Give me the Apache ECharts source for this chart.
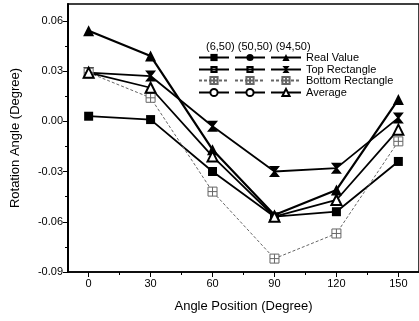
<!DOCTYPE html>
<html>
<head>
<meta charset="utf-8">
<script src="https://cdn.jsdelivr.net/npm/echarts@6/dist/echarts.min.js"></script>
<style>
  html, body { margin: 0; padding: 0; background: #fff; }
  #chart { width: 419px; height: 321px; }
</style>
</head>
<body>
<div id="chart"></div>
<script>
// angle positions (x) and rotation angles (y)
const anglePositions = [0, 30, 60, 90, 120, 150]
const realValue6 = [0.003, 0.001, -0.030, -0.057, -0.054, -0.024]
const realValue94 = [0.054, 0.039, -0.017, -0.056, -0.041, 0.013]
const topRect94 = [0.029, 0.027, -0.003, -0.030, -0.028, 0.002]
const bottomRect94 = [0.029, 0.014, -0.042, -0.082, -0.067, -0.012]
const average94 = [0.029, 0.020, -0.021, -0.057, -0.047, -0.005]

const xTicks = [0, 30, 60, 90, 120, 150]
const xMinorTicks = [15, 45, 75, 105, 135]
const yTicks = [-0.09, -0.06, -0.03, 0, 0.03, 0.06]
const yMinorTicks = [-0.075, -0.045, -0.015, 0.015, 0.045]

const rowNames = ['Real Value', 'Top Rectangle', 'Bottom Rectangle', 'Average']
const colNames = ['(6,50)', '(50,50)', '(94,50)']

const font = 'Liberation Sans, Arial, sans-serif'
const pair = arr => anglePositions.map((x, i) => [x, arr[i]])

const hollowSquare = 'path://M0,0H10V10H0Z M3,3V7H7V3Z'
const dottedBox = 'path://M1,1H9V9H1Z M5,1V9 M1,5H9'
const hourglass = 'path://M0,0H10L6,5L10,10H0L4,5Z'

const solid = { color: '#000', width: 1.8 }
const dotted = { color: '#666', width: 1, type: [3, 2] }

function mk(row, col, data, symbol, size, line, item) {
  return {
    name: rowNames[row] + ' ' + colNames[col],
    type: 'line',
    data: data ? pair(data) : [],
    symbol: symbol,
    symbolSize: size,
    showSymbol: true,
    lineStyle: Object.assign({}, line),
    itemStyle: Object.assign({}, item),
    z: 3,
    animation: false
  }
}

const black = { color: '#000' }
const hollow = { color: '#000', borderWidth: 1.2 }
const greyBox = { color: '#fff', borderColor: '#666', borderWidth: 1 }

const series = [
  mk(0, 0, realValue6, 'rect', 9, solid, black),
  mk(0, 1, null, 'circle', 9, solid, black),
  mk(0, 2, realValue94, 'triangle', 11, { color: '#000', width: 2.2 }, black),
  mk(1, 0, null, hollowSquare, 8, solid, black),
  mk(1, 1, null, hollowSquare, 8, solid, black),
  mk(1, 2, topRect94, hourglass, 11, solid, black),
  mk(2, 0, null, dottedBox, 8, dotted, greyBox),
  mk(2, 1, null, dottedBox, 8, dotted, greyBox),
  mk(2, 2, bottomRect94, dottedBox, 9, dotted, greyBox),
  mk(3, 0, null, 'emptyCircle', 8, solid, hollow),
  mk(3, 1, null, 'emptyCircle', 8, solid, hollow),
  mk(3, 2, average94, 'emptyTriangle', 10, solid, hollow)
]

const legendTops = [47, 59, 70, 82]
const legends = rowNames.map((row, r) => ({
  data: colNames.map(c => row + ' ' + c),
  left: 193,
  top: legendTops[r],
  orient: 'horizontal',
  itemWidth: 30,
  itemHeight: 9,
  itemGap: 4,
  selectedMode: false,
  textStyle: { fontFamily: font, fontSize: 11, color: '#000' },
  formatter: name => name === row + ' ' + colNames[2] ? row : ''
}))

const chart = echarts.init(document.getElementById('chart'))
chart.setOption({
  animation: false,
  backgroundColor: '#fff',
  title: {
    text: colNames.join(' '),
    left: 201,
    top: 36,
    textStyle: { fontFamily: font, fontSize: 11, fontWeight: 'normal', color: '#000' }
  },
  legend: legends,
  grid: { left: 68, top: 4, width: 355, height: 268, show: true, borderColor: '#000', borderWidth: 1.5 },
  xAxis: [
    {
      type: 'value', min: -10, max: 160, position: 'bottom', offset: 0,
      name: 'Angle Position (Degree)', nameLocation: 'middle', nameGap: 28,
      nameTextStyle: { fontFamily: font, fontSize: 13, color: '#000' },
      axisLine: { onZero: false, lineStyle: { color: '#000', width: 1.5 } },
      axisTick: { customValues: xTicks, length: 5, lineStyle: { color: '#000', width: 1 } },
      axisLabel: { customValues: xTicks, fontFamily: font, fontSize: 11, color: '#000', margin: 6 },
      splitLine: { show: false }
    },
    {
      type: 'value', min: -10, max: 160, position: 'bottom', offset: 0,
      axisLine: { show: false, onZero: false },
      axisTick: { customValues: xMinorTicks, length: 3, lineStyle: { color: '#000', width: 1 } },
      axisLabel: { show: false },
      splitLine: { show: false }
    }
  ],
  yAxis: [
    {
      type: 'value', min: -0.09, max: 0.07, position: 'left', offset: 0,
      name: 'Rotation Angle (Degree)', nameLocation: 'middle', nameGap: 46,
      nameTextStyle: { fontFamily: font, fontSize: 13, color: '#000' },
      axisLine: { onZero: false, lineStyle: { color: '#000', width: 2 } },
      axisTick: { customValues: yTicks, length: 5, lineStyle: { color: '#000', width: 1 } },
      axisLabel: {
        customValues: yTicks, fontFamily: font, fontSize: 11, color: '#000', margin: 5,
        formatter: v => v.toFixed(2)
      },
      splitLine: { show: false }
    },
    {
      type: 'value', min: -0.09, max: 0.07, position: 'left', offset: 0,
      axisLine: { show: false, onZero: false },
      axisTick: { customValues: yMinorTicks, length: 3, lineStyle: { color: '#000', width: 1 } },
      axisLabel: { show: false },
      splitLine: { show: false }
    }
  ],
  series: series
})
</script>
</body>
</html>
